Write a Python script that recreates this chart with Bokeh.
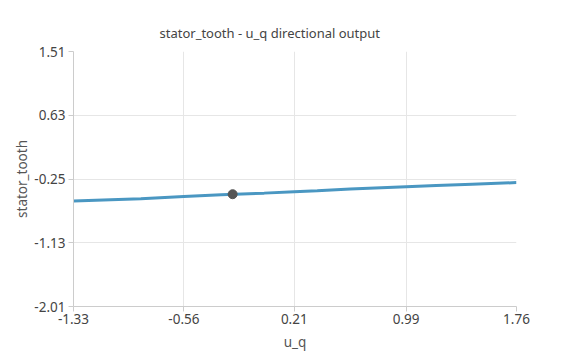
from bokeh.plotting import figure
from bokeh.models import FixedTicker, Range1d
from bokeh.embed import file_html
from bokeh.resources import INLINE

# data
u_q = [-1.33, -1.07, -0.86, -0.56, -0.30, 0.00, 0.21, 0.37, 0.60, 0.99, 1.20, 1.45, 1.76]
stator_tooth = [-0.552, -0.535, -0.521, -0.490, -0.468, -0.445, -0.425, -0.411, -0.388, -0.356, -0.340, -0.322, -0.300]
point_x = [-0.22]
point_y = [-0.460]
x_ticks = [-1.33, -0.56, 0.21, 0.99, 1.76]
y_ticks = [-2.01, -1.13, -0.25, 0.63, 1.51]

FONT = "Noto Sans"

p = figure(width=567, height=359, output_backend="svg", toolbar_location=None,
           x_range=Range1d(-1.33, 1.76), y_range=Range1d(-2.01, 1.51),
           title="stator_tooth - u_q directional output",
           min_border_left=73, min_border_right=51, min_border_top=51, min_border_bottom=53)
p.outline_line_color = None
p.background_fill_color = "white"
p.border_fill_color = "white"

p.title.text_font = FONT
p.title.text_font_size = "13px"
p.title.text_font_style = "normal"
p.title.text_color = "#444444"
p.title.align = "left"
p.title.offset = 86
p.title.standoff = 19

for ax in (p.xaxis[0], p.yaxis[0]):
    ax.axis_line_color = "#cccccc"
    ax.major_tick_line_color = "#cccccc"
    ax.minor_tick_line_color = None
    ax.major_tick_in = 0
    ax.major_tick_out = 5
    ax.major_label_text_font = FONT
    ax.major_label_text_font_size = "13.5px"
    ax.major_label_text_color = "#444444"
    ax.axis_label_text_font = FONT
    ax.axis_label_text_font_size = "13.5px"
    ax.axis_label_text_font_style = "normal"
    ax.axis_label_text_color = "#555555"

p.xaxis.ticker = FixedTicker(ticks=x_ticks)
p.yaxis.ticker = FixedTicker(ticks=y_ticks)
p.xaxis.major_label_overrides = {t: f"{t:.2f}" for t in x_ticks}
p.yaxis.major_label_overrides = {t: f"{t:.2f}" for t in y_ticks}
p.xaxis.axis_label = "u_q"
p.yaxis.axis_label = "stator_tooth"
p.xaxis.major_label_standoff = 2
p.xaxis.axis_label_standoff = 6
p.yaxis.major_label_standoff = 3
p.yaxis.axis_label_standoff = 0

p.xgrid.grid_line_color = "#e6e6e6"
p.ygrid.grid_line_color = "#e6e6e6"

p.line(u_q, stator_tooth, line_color="#4a97c2", line_width=3)
p.scatter(point_x, point_y, size=9, fill_color="#555555", line_color="#555555")

open("out.html", "w").write(file_html(p, INLINE))
